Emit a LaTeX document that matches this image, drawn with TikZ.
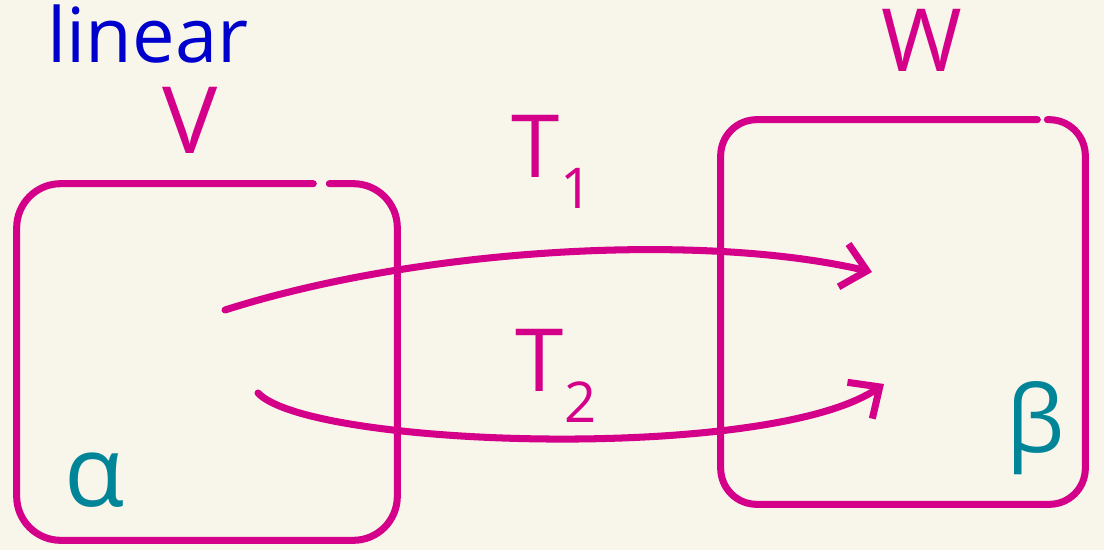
\documentclass[tikz,border=0pt]{standalone}
\usepackage{fontspec}
\setmainfont{Open Sans}
\usepackage{xcolor}
\usepackage{tikz}
\usetikzlibrary{arrows.meta}
\definecolor{paper}{RGB}{248,246,234}
\definecolor{pen}{RGB}{212,0,138}
\definecolor{ink}{RGB}{0,0,205}
\definecolor{teal}{RGB}{0,132,152}
\newcommand{\handsize}[1]{\fontsize{#1}{#1}\selectfont}
\newcommand{\lowsub}[1]{\raisebox{-0.35em}{\handsize{40}#1}}
\tikzset{
  penline/.style={draw=pen, line width=5pt, line cap=round, line join=round},
  mapline/.style={penline, -{Straight Barb[length=0.6cm, width=1.1cm, line width=5pt]}},
  handtext/.style={font={\handsize{62}}, inner sep=0},
}

\begin{document}
\begin{tikzpicture}[x=0.025cm, y=-0.025cm]
    % --- paper, also fixes the page size ---
    \fill[paper] (0,0) rectangle (1104,550);
    \useasboundingbox (0,0) rectangle (1104,550);

    % --- the two spaces, boxes are drawn as open paths (pen gap at the top) ---
    \node[minimum width=9.5cm, minimum height=8.9cm, inner sep=0] (vbox) at (207,362) {};
    \node[minimum width=9.1cm, minimum height=9.6cm, inner sep=0] (wbox) at (903,312) {};
    \draw[penline, rounded corners=1.1cm]
      ([xshift=-2.1cm]vbox.north east) -- (vbox.north west) -- (vbox.south west)
      -- (vbox.south east) -- (vbox.north east) -- ([xshift=-1.7cm]vbox.north east);
    \draw[penline, rounded corners=0.9cm]
      ([xshift=-1.2cm]wbox.north east) -- (wbox.north west) -- (wbox.south west)
      -- (wbox.south east) -- (wbox.north east) -- ([xshift=-0.95cm]wbox.north east);

    % --- labels ---
    \node[handtext, text=ink, font={\handsize{54}}] (linear) at (148,34) {linear};
    \node[handtext, text=pen, font={\handsize{66}}] (vlab) at (190,120) {V};
    \node[handtext, text=pen] (wlab) at (922,40) {W};
    \node[handtext, text=pen] (tone) at (552,162) {T\lowsub{1}};
    \node[handtext, text=pen] (ttwo) at (556,376) {T\lowsub{2}};
    \node[handtext, text=teal, font={\handsize{70}}] (alpha) at (95,480) {α};
    \node[handtext, text=teal, font={\handsize{66}}] (beta) at (1036,428) {β};

    % --- the two maps V -> W ---
    \coordinate (s1) at (225,310);
    \coordinate (e1) at (872,272);
    \coordinate (s2) at (258,393);
    \coordinate (e2) at (884,384);
    \draw[mapline] (s1) .. controls (420,248) and (700,232) .. (e1);
    \draw[mapline] (s2) .. controls (310,448) and (770,462) .. (e2);
  \end{tikzpicture}
\end{document}
